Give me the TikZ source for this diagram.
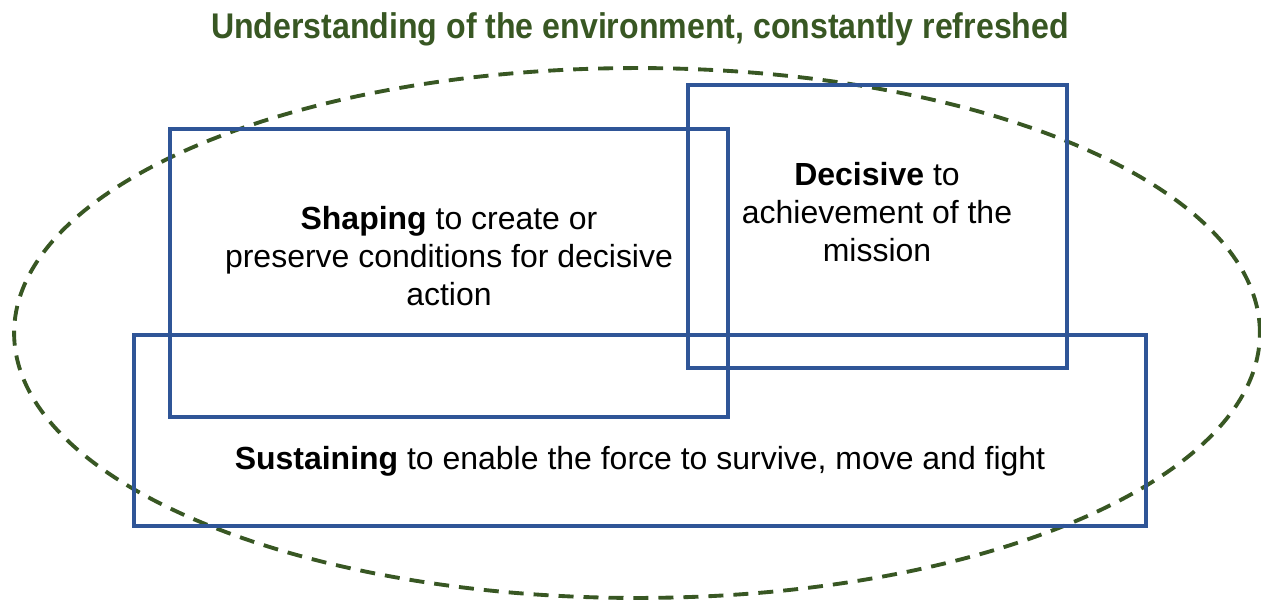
\documentclass[tikz,border=0pt]{standalone}
\usepackage{fontspec}
\setmainfont{Liberation Sans}
\newfontfamily\titlefont[FakeStretch=0.9]{Liberation Sans}
\usetikzlibrary{positioning}
\definecolor{boxblue}{RGB}{47,85,151}
\definecolor{envgreen}{RGB}{56,87,35}
\tikzset{
  effbox/.style={draw=boxblue, line width=2.1pt, inner sep=0pt},
  efftext/.style={align=center, font=\fontsize{18.2}{21.5}\selectfont},
}
\begin{document}
\begin{tikzpicture}[x=0.02cm, y=-0.02cm]
  \useasboundingbox (0,0) rectangle (1261,599);
  % understanding of the environment
  \draw[envgreen, line width=2.2pt, dash pattern=on 0.3cm off 0.2cm]
    (637,333) ellipse [x radius=12.46cm, y radius=5.3cm];
  \node[text=envgreen, font=\titlefont\bfseries\fontsize{20.3}{24}\selectfont] (title) at (640,29)
    {Understanding of the environment, constantly refreshed};
  % the three boxes
  \node[effbox, minimum width=11.16cm, minimum height=5.76cm] (shaping) at (449,273) {};
  \node[effbox, minimum width=7.58cm, minimum height=5.66cm] (decisive) at (877.5,226.5) {};
  \node[effbox, minimum width=20.24cm, minimum height=3.82cm] (sustaining) at (640,430.5) {};
  \node[efftext] (shapingtxt) at (449,256)
    {\textbf{Shaping} to create or\\preserve conditions for decisive\\action};
  \node[efftext] (decisivetxt) at (877,212)
    {\textbf{Decisive} to\\achievement of the\\mission};
  \node[efftext] (sustainingtxt) at (640,461)
    {\textbf{Sustaining} to enable the force to survive, move and fight};
\end{tikzpicture}
\end{document}
